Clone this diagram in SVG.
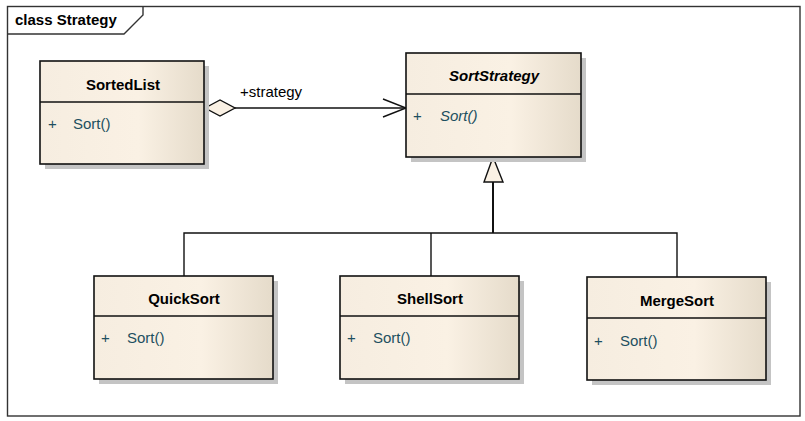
<svg xmlns="http://www.w3.org/2000/svg" width="805" height="421" viewBox="0 0 805 421">
<defs>
<linearGradient id="g" x1="0" y1="0" x2="1" y2="0">
<stop offset="0" stop-color="#f6ede0"/>
<stop offset="0.6" stop-color="#faf1e4"/>
<stop offset="1" stop-color="#e5dbca"/>
</linearGradient>
</defs>
<style>
.sh{fill:#c4c4c4}
.box{fill:url(#g);stroke:#111;stroke-width:1.6}
.div{stroke:#111;stroke-width:1.3}
.t{font-family:"Liberation Sans",Arial,sans-serif;font-size:15px;font-weight:bold;fill:#000;text-anchor:middle}
.ti{font-style:italic}
.m{font-family:"Liberation Sans",Arial,sans-serif;font-size:15px;fill:#1d4f60}
.ln{fill:none;stroke:#111;stroke-width:1.4}
.frame{fill:none;stroke:#333;stroke-width:1.4}
</style>
<rect width="805" height="421" fill="#fff"/>
<g id="frame">
<rect class="frame" x="7.5" y="6.5" width="792.5" height="409.5"/>
<path class="frame" d="M7.5 34 H124 L143 15 V6.5"/>
<text x="15" y="25" style="font-family:'Liberation Sans',Arial,sans-serif;font-size:15px;font-weight:bold">class Strategy</text>
</g>
<g id="connectors">
<line class="ln" x1="235" y1="108" x2="405" y2="108"/>
<polyline class="ln" points="383,99 406,108 383,117"/>
<polygon points="205,108 220,100 235,108 220,116" fill="#faf1e4" stroke="#111" stroke-width="1.4"/>
<text x="240" y="97" class="m" style="fill:#000">+strategy</text>
<polyline class="ln" points="184,276 184,233 677,233 677,277"/>
<line class="ln" x1="431" y1="233" x2="431" y2="276"/>
<line class="ln" x1="493" y1="233" x2="493" y2="182" style="stroke-width:2"/>
<polygon points="493,157 484,182 503,182" fill="#faf1e4" stroke="#111" stroke-width="1.4"/>
</g>
<g id="SortedList">
<rect class="sh" x="45" y="66" width="164" height="103"/>
<rect class="box" x="40" y="61" width="164" height="103"/>
<line class="div" x1="40" y1="102" x2="204" y2="102"/>
<text class="t" x="123" y="90">SortedList</text>
<text class="m" x="48" y="129">+</text>
<text class="m" x="73" y="129">Sort()</text>
</g>
<g id="SortStrategy">
<rect class="sh" x="411" y="58" width="175" height="104"/>
<rect class="box" x="406" y="53" width="175" height="104"/>
<line class="div" x1="406" y1="94" x2="581" y2="94"/>
<text class="t ti" x="494" y="81">SortStrategy</text>
<text class="m" x="413" y="121">+</text>
<text class="m ti" x="440" y="121">Sort()</text>
</g>
<g id="QuickSort">
<rect class="sh" x="99" y="281" width="179" height="103"/>
<rect class="box" x="94" y="276" width="179" height="103"/>
<line class="div" x1="94" y1="316" x2="273" y2="316"/>
<text class="t" x="184" y="304">QuickSort</text>
<text class="m" x="101" y="343">+</text>
<text class="m" x="127" y="343">Sort()</text>
</g>
<g id="ShellSort">
<rect class="sh" x="345" y="281" width="179" height="103"/>
<rect class="box" x="340" y="276" width="179" height="103"/>
<line class="div" x1="340" y1="316" x2="519" y2="316"/>
<text class="t" x="430" y="304">ShellSort</text>
<text class="m" x="347" y="343">+</text>
<text class="m" x="373" y="343">Sort()</text>
</g>
<g id="MergeSort">
<rect class="sh" x="592" y="282" width="179" height="103"/>
<rect class="box" x="587" y="277" width="179" height="103"/>
<line class="div" x1="587" y1="318" x2="766" y2="318"/>
<text class="t" x="677" y="306">MergeSort</text>
<text class="m" x="594" y="346">+</text>
<text class="m" x="620" y="346">Sort()</text>
</g>
</svg>
